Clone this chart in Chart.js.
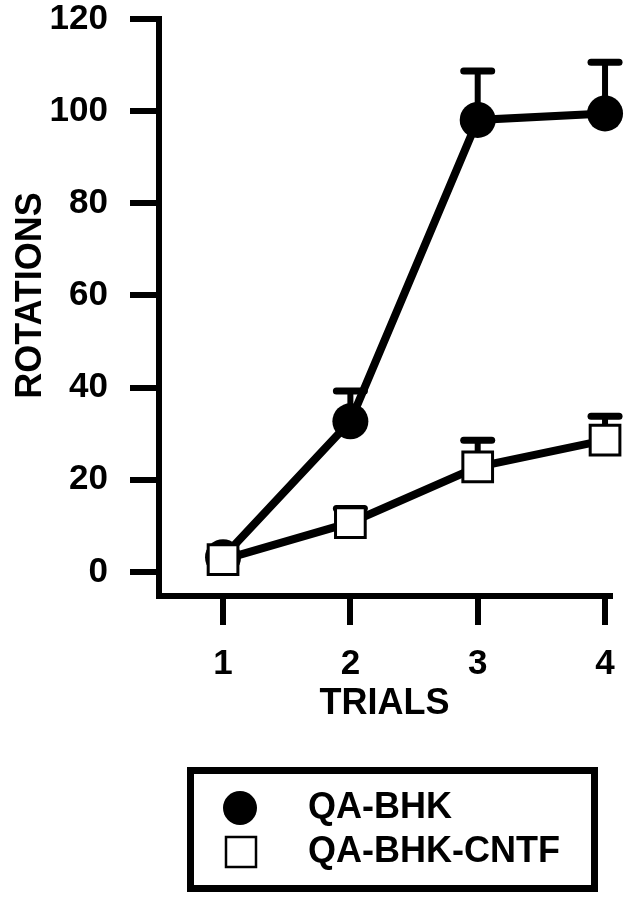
<!DOCTYPE html>
<html>
<head>
<meta charset="utf-8">
<script src="https://cdn.jsdelivr.net/npm/chart.js@4.4.0/dist/chart.umd.min.js"></script>
<style>
  html, body { margin: 0; padding: 0; background: #fff; }
</style>
</head>
<body>
<canvas id="rot" width="631" height="899"></canvas>
<script>
// values
const trials = [1, 2, 3, 4];
const qaBhk = [3.2, 32.7, 98.1, 99.5];
const qaBhkErr = [0, 6.6, 10.6, 11.1];
const qaCntf = [2.7, 10.7, 22.8, 28.6];
const qaCntfErr = [0, 3.1, 5.8, 5.2];
const yTicks = [0, 20, 40, 60, 80, 100, 120];
const seriesNames = ['QA-BHK', 'QA-BHK-CNTF'];

const FONT = '"Liberation Sans", Arial, Helvetica, sans-serif';

// upper error bars, drawn under lines and markers
const errorBars = {
  id: 'errorBars',
  beforeDatasetsDraw(chart) {
    const ctx = chart.ctx;
    const xs = chart.scales.x, ys = chart.scales.y;
    ctx.save();
    ctx.strokeStyle = '#000';
    chart.data.datasets.forEach((ds) => {
      ds.data.forEach((p, i) => {
        const e = ds.errors[i];
        if (!e) return;
        const px = xs.getPixelForValue(p.x);
        const y0 = ys.getPixelForValue(p.y);
        const y1 = ys.getPixelForValue(p.y + e);
        ctx.lineWidth = 6;
        ctx.lineCap = 'butt';
        ctx.beginPath(); ctx.moveTo(px, y0); ctx.lineTo(px, y1); ctx.stroke();
        ctx.lineWidth = 7;
        ctx.lineCap = 'round';
        ctx.beginPath(); ctx.moveTo(px - 14, y1); ctx.lineTo(px + 14, y1); ctx.stroke();
      });
    });
    ctx.restore();
  }
};

// rotated y title centred on the 0..120 range, plus the boxed legend
const extras = {
  id: 'extras',
  afterDraw(chart) {
    const ctx = chart.ctx;
    const ys = chart.scales.y;
    const mid = (ys.getPixelForValue(yTicks[0]) + ys.getPixelForValue(yTicks[yTicks.length - 1])) / 2;
    ctx.save();
    ctx.fillStyle = '#000';
    ctx.font = 'bold 36px ' + FONT;
    ctx.textAlign = 'center';
    ctx.textBaseline = 'middle';
    ctx.translate(31, mid);
    ctx.rotate(-Math.PI / 2);
    ctx.fillText('ROTATIONS', 0, 0);
    ctx.restore();

    // legend
    ctx.save();
    ctx.strokeStyle = '#000';
    ctx.lineWidth = 7;
    ctx.strokeRect(190.5, 770.5, 404, 118);
    const rows = [808, 852];
    chart.data.datasets.forEach((ds, i) => {
      const cy = rows[i];
      if (ds.pointStyle === 'circle') {
        ctx.fillStyle = ds.pointBackgroundColor;
        ctx.beginPath();
        ctx.arc(240, cy, 17, 0, Math.PI * 2);
        ctx.fill();
      } else {
        ctx.fillStyle = ds.pointBackgroundColor;
        ctx.lineWidth = 2.5;
        ctx.fillRect(226, cy - 15, 30, 30);
        ctx.strokeRect(226, cy - 15, 30, 30);
      }
      ctx.fillStyle = '#000';
      ctx.font = 'bold 36px ' + FONT;
      ctx.textAlign = 'left';
      ctx.textBaseline = 'middle';
      ctx.fillText(ds.label, 308, cy);
    });
    ctx.restore();
  }
};

const tickFont = { family: FONT, size: 35, weight: 'bold', lineHeight: 1 };

new Chart(document.getElementById('rot').getContext('2d'), {
  type: 'line',
  data: {
    datasets: [
      {
        label: seriesNames[0],
        data: trials.map((t, i) => ({ x: t, y: qaBhk[i] })),
        errors: qaBhkErr,
        borderColor: '#000',
        borderWidth: 8,
        pointStyle: 'circle',
        pointRadius: 18,
        pointBackgroundColor: '#000',
        pointBorderWidth: 0,
        order: 2,
        clip: false
      },
      {
        label: seriesNames[1],
        data: trials.map((t, i) => ({ x: t, y: qaCntf[i] })),
        errors: qaCntfErr,
        borderColor: '#000',
        borderWidth: 8,
        pointStyle: 'rect',
        pointRadius: 21,
        pointBackgroundColor: '#fff',
        pointBorderColor: '#000',
        pointBorderWidth: 3,
        order: 1,
        clip: false
      }
    ]
  },
  options: {
    responsive: false,
    animation: false,
    layout: { autoPadding: false, padding: { top: 19, right: 21, bottom: 173, left: 0 } },
    plugins: {
      legend: { display: false },
      tooltip: { enabled: false }
    },
    scales: {
      x: {
        type: 'linear',
        min: 0.497,
        max: 4.039,
        afterBuildTicks: (s) => { s.ticks = trials.map((v) => ({ value: v })); },
        afterFit: (s) => {
          s.height = 130;
          s.paddingLeft = 0;
          s.paddingRight = 0;
        },
        grid: { drawOnChartArea: false, drawTicks: true, tickLength: 29, lineWidth: 6, color: '#000' },
        border: { display: true, width: 6, color: '#000' },
        ticks: { color: '#000', padding: 22, maxRotation: 0, font: tickFont },
        title: {
          display: true,
          text: 'TRIALS',
          color: '#000',
          font: { family: FONT, size: 36, weight: 'bold', lineHeight: 1 },
          padding: { top: 0, bottom: 4 }
        }
      },
      y: {
        type: 'linear',
        min: -5.21,
        max: 120,
        afterBuildTicks: (s) => { s.ticks = yTicks.map((v) => ({ value: v })); },
        afterFit: (s) => {
          s.width = 159;
          s.paddingTop = 0;
          s.paddingBottom = 0;
        },
        grid: { drawOnChartArea: false, drawTicks: true, tickLength: 29, lineWidth: 6, color: '#000' },
        border: { display: true, width: 6, color: '#000' },
        ticks: { color: '#000', padding: 22, font: tickFont }
      }
    }
  },
  plugins: [errorBars, extras]
});
</script>
</body>
</html>
